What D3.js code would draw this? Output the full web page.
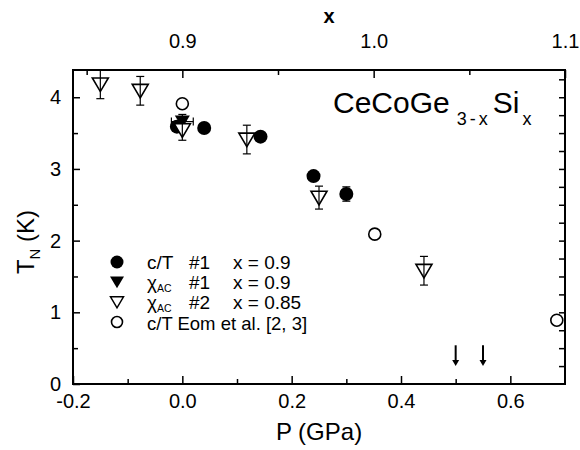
<!DOCTYPE html>
<html>
<head>
<meta charset="utf-8">
<script src="https://cdn.jsdelivr.net/npm/d3@7"></script>
<style>
  body { margin: 0; background: #fff; }
  text { font-family: "Liberation Sans", Arial, sans-serif; fill: #000; }
</style>
</head>
<body>
<div id="chart-area"></div>
<script>
// c/T #1  x = 0.9
var ctP   = [-0.01, 0.04, 0.143, 0.24, 0.30];
var ctT   = [3.59, 3.57, 3.45, 2.90, 2.65];
var ctErr = [0, 0, 0, 0, 0.1];

// chi_AC #1  x = 0.9
var chi1P    = [0.0];
var chi1T    = [3.66];
var chi1Err  = [0.1];
var chi1PErr = [0.02];

// chi_AC #2  x = 0.85
var chi2P   = [-0.15, -0.077, 0.0, 0.118, 0.25, 0.442];
var chi2T   = [4.18, 4.09, 3.54, 3.41, 2.60, 1.58];
var chi2Err = [0.2, 0.2, 0.14, 0.2, 0.16, 0.2];

// c/T Eom et al.
var eomP = [0.0, 0.352, 0.685];
var eomT = [3.91, 2.09, 0.89];

// arrows
var arrowP = [0.5, 0.55];
var arrowTop = 0.54, arrowBottom = 0.25;

var xTicks = [-0.2, 0.0, 0.2, 0.4, 0.6];
var xMinor = [-0.1, 0.1, 0.3, 0.5];
var yTicks = [0, 1, 2, 3, 4];
var yMinor = [0.5, 1.5, 2.5, 3.5];
var yRight = d3.range(0.25, 4.38, 0.25);
var topTicks = [0.9, 1.0, 1.1];
var topMinor = [0.85, 0.95, 1.05];

var margin = { left:73, right:15, top:70, bottom:66 };
var width = 580 - margin.left - margin.right,
    height = 450 - margin.top - margin.bottom;

var svg = d3.select("#chart-area")
    .append("svg")
        .attr("width", 580)
        .attr("height", 450);

var g = svg.append("g")
    .attr("transform", "translate(" + margin.left + ", " + margin.top + ")");

// Scales
var x = d3.scaleLinear().domain([-0.2, 0.7]).range([0, width]);
var y = d3.scaleLinear().domain([0, 4.38]).range([height, 0]);
var xTop = d3.scaleLinear().domain([0.9 - 0.2 / 3.5, 1.1]).range([0, width]);

function fmt(d){ return d.toFixed(1); }

// Bottom axis
g.append("g")
    .attr("class", "axis")
    .attr("transform", "translate(0," + height + ")")
    .call(d3.axisBottom(x).tickValues(xTicks).tickSize(-8).tickPadding(10).tickFormat(fmt));
g.append("g")
    .attr("class", "axis")
    .attr("transform", "translate(0," + height + ")")
    .call(d3.axisBottom(x).tickValues(xMinor).tickSize(-5).tickFormat(""));

// Top axis
g.append("g")
    .attr("class", "axis")
    .call(d3.axisTop(xTop).tickValues(topTicks).tickSize(-8).tickPadding(22).tickFormat(fmt));
g.append("g")
    .attr("class", "axis")
    .call(d3.axisTop(xTop).tickValues(topMinor).tickSize(-5).tickFormat(""));

// Left axis
g.append("g")
    .attr("class", "axis")
    .call(d3.axisLeft(y).tickValues(yTicks).tickSize(-7).tickPadding(12).tickFormat(d3.format("d")));
g.append("g")
    .attr("class", "axis")
    .call(d3.axisLeft(y).tickValues(yMinor).tickSize(-5).tickFormat(""));

// Right axis
g.append("g")
    .attr("class", "axis")
    .attr("transform", "translate(" + width + ",0)")
    .call(d3.axisRight(y).tickValues(yRight).tickSize(-6).tickFormat(""));

g.selectAll(".axis .domain").remove();
g.selectAll(".axis line").attr("stroke", "#000").attr("stroke-width", 1.5);
g.selectAll(".axis text").attr("font-size", "20px").attr("font-family", "Liberation Sans, Arial, sans-serif");

// Frame
g.append("rect")
    .attr("width", width)
    .attr("height", height)
    .attr("fill", "none")
    .attr("stroke", "#000")
    .attr("stroke-width", 2);

// Axis labels
g.append("text")
    .attr("x", width / 2)
    .attr("y", height + 56)
    .attr("font-size", "24px")
    .attr("text-anchor", "middle")
    .text("P (GPa)");

g.append("text")
    .attr("x", width / 2 + 10)
    .attr("y", -47)
    .attr("font-size", "20px")
    .attr("font-weight", "bold")
    .attr("text-anchor", "middle")
    .text("x");

var yLabel = g.append("text")
    .attr("transform", "rotate(-90)")
    .attr("x", -(242 - margin.top))
    .attr("y", -39)
    .attr("font-size", "24px")
    .attr("text-anchor", "middle");
yLabel.append("tspan").text("T");
yLabel.append("tspan").attr("font-size", "15px").attr("dy", 6).text("N");
yLabel.append("tspan").attr("dy", -6).text(" (K)");

// Compound name
var title = g.append("text")
    .attr("x", 333 - margin.left)
    .attr("y", 113 - margin.top)
    .attr("font-size", "30px");
title.append("tspan").text("CeCoGe");
title.append("tspan").attr("dx", 7).attr("dy", 12).attr("font-size", "18px").attr("letter-spacing", "3px").text("3-x");
title.append("tspan").attr("dx", 2).attr("dy", -12).attr("letter-spacing", "0px").text("Si");
title.append("tspan").attr("dx", 3).attr("dy", 12).attr("font-size", "18px").text("x");

// Marker shapes
function triDown(s){
    return "M" + (-s) + "," + (-s * 0.8) + "L" + s + "," + (-s * 0.8) + "L0," + (s * 0.9) + "Z";
}

function errBars(P, T, E){
    var d = d3.range(P.length).filter(function(i){ return E[i] > 0; });
    var eg = g.append("g").attr("stroke", "#000").attr("stroke-width", 1.2);
    d.forEach(function(i){
        var cx = x(P[i]), y0 = y(T[i] - E[i]), y1 = y(T[i] + E[i]);
        eg.append("line").attr("x1", cx).attr("x2", cx).attr("y1", y0).attr("y2", y1);
        eg.append("line").attr("x1", cx - 4).attr("x2", cx + 4).attr("y1", y0).attr("y2", y0);
        eg.append("line").attr("x1", cx - 4).attr("x2", cx + 4).attr("y1", y1).attr("y2", y1);
    });
}

// c/T #1 filled circles
g.selectAll(".ct")
    .data(d3.range(ctP.length))
    .enter().append("circle")
        .attr("class", "ct")
        .attr("cx", function(i){ return x(ctP[i]); })
        .attr("cy", function(i){ return y(ctT[i]); })
        .attr("r", 7)
        .attr("fill", "#000");
errBars(ctP, ctT, ctErr);

// chi_AC #1 filled triangle
errBars(chi1P, chi1T, chi1Err);
chi1P.forEach(function(p, i){
    var cy = y(chi1T[i]), x0 = x(p - chi1PErr[i]), x1 = x(p + chi1PErr[i]);
    var hg = g.append("g").attr("stroke", "#000").attr("stroke-width", 1.2);
    hg.append("line").attr("x1", x0).attr("x2", x1).attr("y1", cy).attr("y2", cy);
    hg.append("line").attr("x1", x0).attr("x2", x0).attr("y1", cy - 4).attr("y2", cy + 4);
    hg.append("line").attr("x1", x1).attr("x2", x1).attr("y1", cy - 4).attr("y2", cy + 4);
});
g.selectAll(".chi1")
    .data(d3.range(chi1P.length))
    .enter().append("path")
        .attr("class", "chi1")
        .attr("d", triDown(7.5))
        .attr("transform", function(i){ return "translate(" + x(chi1P[i]) + "," + y(chi1T[i]) + ")"; })
        .attr("fill", "#000");

// chi_AC #2 open triangles
g.selectAll(".chi2")
    .data(d3.range(chi2P.length))
    .enter().append("path")
        .attr("class", "chi2")
        .attr("d", triDown(8))
        .attr("transform", function(i){ return "translate(" + x(chi2P[i]) + "," + y(chi2T[i]) + ")"; })
        .attr("fill", "#fff")
        .attr("stroke", "#000")
        .attr("stroke-width", 1.6);
errBars(chi2P, chi2T, chi2Err);

// Eom et al. open circles
g.selectAll(".eom")
    .data(d3.range(eomP.length))
    .enter().append("circle")
        .attr("class", "eom")
        .attr("cx", function(i){ return x(eomP[i]); })
        .attr("cy", function(i){ return y(eomT[i]); })
        .attr("r", 6)
        .attr("fill", "none")
        .attr("stroke", "#000")
        .attr("stroke-width", 1.6);

// Arrows
g.selectAll(".arrow")
    .data(arrowP)
    .enter().append("line")
        .attr("class", "arrow")
        .attr("x1", function(d){ return x(d); })
        .attr("x2", function(d){ return x(d); })
        .attr("y1", y(arrowTop))
        .attr("y2", y(arrowBottom) - 4)
        .attr("stroke", "#000")
        .attr("stroke-width", 2);
g.selectAll(".arrowhead")
    .data(arrowP)
    .enter().append("path")
        .attr("class", "arrowhead")
        .attr("d", "M-3.5,-6L3.5,-6L0,0Z")
        .attr("transform", function(d){ return "translate(" + x(d) + "," + y(arrowBottom) + ")"; })
        .attr("fill", "#000");

// Legend
var legend = g.append("g").attr("transform", "translate(" + (117 - margin.left) + "," + (262 - margin.top) + ")");
var rowH = 20;

legend.append("circle").attr("r", 6.5).attr("fill", "#000");
legend.append("path").attr("d", triDown(7)).attr("transform", "translate(0," + rowH + ")").attr("fill", "#000");
legend.append("path").attr("d", triDown(6.5)).attr("transform", "translate(0," + (2 * rowH) + ")")
    .attr("fill", "none").attr("stroke", "#000").attr("stroke-width", 1.5);
legend.append("circle").attr("cy", 3 * rowH).attr("r", 5.5)
    .attr("fill", "none").attr("stroke", "#000").attr("stroke-width", 1.6);

var legCol1 = ["c/T", "\u03C7", "\u03C7"];
var legCol2 = ["#1", "#1", "#2"];
var legCol3 = ["x = 0.9", "x = 0.9", "x = 0.85"];

legCol1.forEach(function(t, i){
    var tx = legend.append("text")
        .attr("x", 30)
        .attr("y", i * rowH + 7)
        .attr("font-size", "19px");
    tx.append("tspan").text(t);
    if (i > 0) {
        tx.append("tspan").attr("font-size", "10.5px").attr("dy", 2.5).text("AC");
    }
    legend.append("text").attr("x", 72).attr("y", i * rowH + 7).attr("font-size", "19px").text(legCol2[i]);
    legend.append("text").attr("x", 116).attr("y", i * rowH + 7).attr("font-size", "19px").text(legCol3[i]);
});
legend.append("text")
    .attr("x", 30)
    .attr("y", 3 * rowH + 8)
    .attr("font-size", "18.5px")
    .text("c/T Eom et al. [2, 3]");
</script>
</body>
</html>
